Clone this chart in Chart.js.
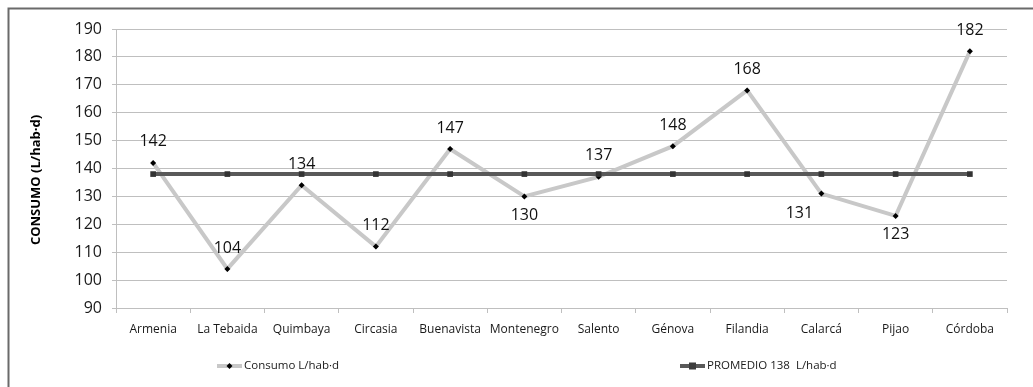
<!DOCTYPE html>
<html>
<head>
<meta charset="utf-8">
<script src="https://cdn.jsdelivr.net/npm/chart.js@4/dist/chart.umd.min.js"></script>
<style>
  html, body { margin: 0; padding: 0; background: #ffffff; }
  canvas { display: block; }
</style>
</head>
<body>
<canvas id="chart" width="1033" height="387"></canvas>
<script>
// Municipios del Quindío
const categories = ['Armenia', 'La Tebaida', 'Quimbaya', 'Circasia', 'Buenavista', 'Montenegro',
  'Salento', 'Génova', 'Filandia', 'Calarcá', 'Pijao', 'Córdoba'];
// Consumo por habitante (L/hab·d)
const consumo = [142, 104, 134, 112, 147, 130, 137, 148, 168, 131, 123, 182];
// Promedio departamental
const promedioValor = 138;
const promedio = categories.map(() => promedioValor);
// Eje Y
const yMin = 90;
const yMax = 190;
const yStep = 10;
const yTitle = 'CONSUMO (L/hab·d)';
// Ubicación de cada etiqueta de valor respecto a su punto
const labelPlacement = ['above', 'above', 'above', 'above', 'above', 'below',
  'above', 'above', 'above', 'left', 'below', 'above'];

const seriesNames = ['Consumo L/hab·d', 'PROMEDIO ' + promedioValor + '  L/hab·d'];

const FONT = "'Open Sans', 'Liberation Sans', sans-serif";
const GRID = '#bfbfbf';
const LIGHT = '#c8c8c8';
const DARK = '#595959';

// Marco exterior del gráfico
const framePlugin = {
  id: 'frame',
  beforeDraw(chart) {
    const ctx = chart.ctx;
    ctx.save();
    ctx.fillStyle = '#ffffff';
    ctx.fillRect(0, 0, chart.width, chart.height);
    ctx.strokeStyle = '#6a6a6a';
    ctx.lineWidth = 2;
    ctx.beginPath();
    ctx.moveTo(8.5, chart.height);
    ctx.lineTo(8.5, 8.5);
    ctx.lineTo(chart.width, 8.5);
    ctx.stroke();
    ctx.restore();
  }
};

// Título vertical del eje Y
const yTitlePlugin = {
  id: 'yTitle',
  afterDraw(chart) {
    const ctx = chart.ctx;
    ctx.save();
    ctx.translate(36, 180);
    ctx.rotate(-Math.PI / 2);
    ctx.font = 'bold 13px ' + FONT;
    ctx.fillStyle = '#000000';
    ctx.textAlign = 'center';
    ctx.textBaseline = 'middle';
    ctx.fillText(yTitle, 0, 0);
    ctx.restore();
  }
};

// Etiquetas con el valor de cada punto de consumo
const valueLabels = {
  id: 'valueLabels',
  afterDatasetsDraw(chart) {
    const ctx = chart.ctx;
    const meta = chart.getDatasetMeta(0);
    ctx.save();
    ctx.font = '16px ' + FONT;
    ctx.fillStyle = '#111111';
    ctx.textAlign = 'center';
    ctx.textBaseline = 'middle';
    meta.data.forEach((pt, i) => {
      const v = chart.data.datasets[0].data[i];
      let x = pt.x, y = pt.y;
      const p = labelPlacement[i];
      if (p === 'above') y -= 21;
      else if (p === 'below') y += 19;
      else if (p === 'left') { x -= 22; y += 20; }
      ctx.fillText(String(v), x, y);
    });
    ctx.restore();
  }
};

// Leyenda en dos columnas bajo el eje X
const legendPlugin = {
  id: 'twoColLegend',
  afterDraw(chart) {
    const ctx = chart.ctx;
    const y = 366;
    const items = [
      { x: 217, name: seriesNames[0], line: LIGHT, marker: 'diamond' },
      { x: 680, name: seriesNames[1], line: DARK, marker: 'square' }
    ];
    ctx.save();
    items.forEach(it => {
      ctx.strokeStyle = it.line;
      ctx.lineWidth = 4;
      ctx.beginPath();
      ctx.moveTo(it.x, y);
      ctx.lineTo(it.x + 25, y);
      ctx.stroke();
      const cx = it.x + 12.5;
      if (it.marker === 'diamond') {
        ctx.fillStyle = '#000000';
        ctx.beginPath();
        ctx.moveTo(cx, y - 3);
        ctx.lineTo(cx + 3, y);
        ctx.lineTo(cx, y + 3);
        ctx.lineTo(cx - 3, y);
        ctx.closePath();
        ctx.fill();
      } else {
        ctx.fillStyle = '#3c3c3c';
        ctx.fillRect(cx - 3.5, y - 3.5, 7, 7);
      }
      ctx.fillStyle = '#1a1a1a';
      ctx.font = '11.5px ' + FONT;
      ctx.textAlign = 'left';
      ctx.textBaseline = 'middle';
      ctx.fillText(it.name, it.x + 27, y);
    });
    ctx.restore();
  }
};

new Chart(document.getElementById('chart'), {
  type: 'line',
  data: {
    labels: categories,
    datasets: [
      {
        label: seriesNames[0],
        data: consumo,
        borderColor: LIGHT,
        borderWidth: 4,
        pointStyle: 'rectRot',
        pointRadius: 3,
        pointBackgroundColor: '#000000',
        pointBorderColor: '#000000',
        pointBorderWidth: 0,
        tension: 0,
        order: 2
      },
      {
        label: seriesNames[1],
        data: promedio,
        borderColor: DARK,
        borderWidth: 4,
        pointStyle: 'rect',
        pointRadius: 4,
        pointBackgroundColor: '#333333',
        pointBorderColor: '#333333',
        pointBorderWidth: 0,
        tension: 0,
        order: 1
      }
    ]
  },
  options: {
    responsive: false,
    animation: false,
    layout: { padding: { top: 29, right: 26, left: 0, bottom: 0 } },
    plugins: {
      legend: { display: false },
      tooltip: { enabled: false }
    },
    scales: {
      x: {
        offset: true,
        afterFit(scale) { scale.height = 79; },
        grid: {
          offset: true,
          drawOnChartArea: false,
          drawTicks: true,
          tickLength: 5,
          color: GRID
        },
        border: { color: GRID, width: 1 },
        ticks: {
          font: { family: FONT, size: 12 },
          color: '#1a1a1a',
          padding: 9,
          maxRotation: 0,
          autoSkip: false
        }
      },
      y: {
        min: yMin,
        max: yMax,
        afterFit(scale) { scale.width = 116; },
        grid: { color: GRID, tickLength: 4 },
        border: { color: GRID, width: 1 },
        ticks: {
          stepSize: yStep,
          font: { family: FONT, size: 16 },
          color: '#1a1a1a',
          padding: 10
        }
      }
    }
  },
  plugins: [framePlugin, yTitlePlugin, valueLabels, legendPlugin]
});
</script>
</body>
</html>
